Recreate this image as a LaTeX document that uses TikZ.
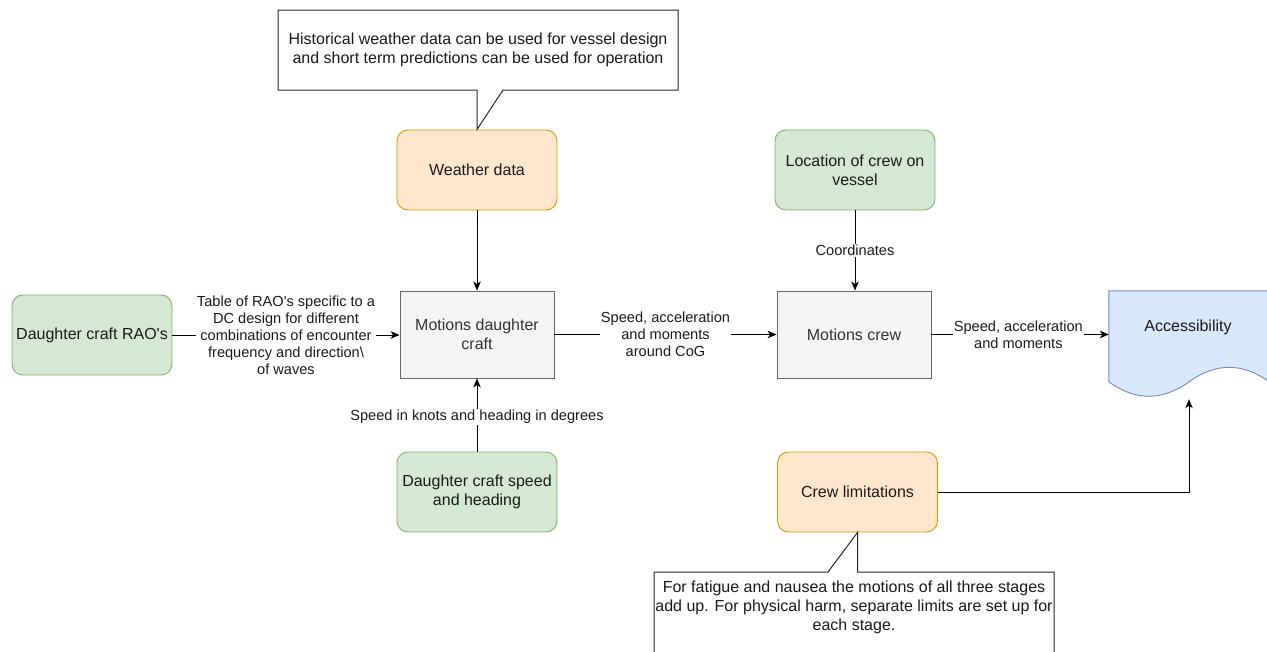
\documentclass[tikz,border=0pt]{standalone}
\usepackage{fontspec}
\setmainfont{Liberation Sans}
\usetikzlibrary{arrows.meta,calc}
\definecolor{gfill}{HTML}{D5E8D4}\definecolor{gline}{HTML}{82B366}
\definecolor{ofill}{HTML}{FFE6CC}\definecolor{oline}{HTML}{D79B00}
\definecolor{bfill}{HTML}{DAE8FC}\definecolor{bline}{HTML}{6C8EBF}
\definecolor{kfill}{HTML}{F5F5F5}\definecolor{kline}{HTML}{666666}
\definecolor{ktext}{HTML}{333333}
\definecolor{txt}{HTML}{1A1A1A}
\tikzset{
  boxfont/.style={font=\fontsize{16}{19}\selectfont, text=txt},
  lblfont/.style={font=\fontsize{14.6}{16.9}\selectfont, text=txt},
  greenbox/.style={boxfont, draw=gline, fill=gfill, rounded corners=11pt, minimum width=160pt, minimum height=80pt, inner sep=0pt, align=center, line width=0.9pt},
  orangebox/.style={boxfont, draw=oline, fill=ofill, rounded corners=11pt, minimum width=160pt, minimum height=80pt, inner sep=0pt, align=center, line width=0.9pt},
  greybox/.style={boxfont, text=ktext, draw=kline, fill=kfill, minimum width=154pt, minimum height=87pt, inner sep=0pt, align=center, line width=0.9pt},
  conn/.style={draw=black, line width=1pt, -{Stealth[length=9pt,width=7.5pt,inset=2.5pt]}},
  elabel/.style={lblfont, fill=white, inner sep=1pt, align=center},
}
\begin{document}
\begin{tikzpicture}[x=1pt,y=-1pt]
\useasboundingbox (0,0) rectangle (1267,651);
\fill[white] (0,0) rectangle (1267,651);
\begin{scope}
\clip (0,0) rectangle (1267,651);

% nodes
\node[orangebox] (wd) at (477,170) {Weather data};
\node[greybox] (mdc) at (477,334.5) {Motions daughter\\craft};
\node[greenbox] (rao) at (92,335) {Daughter craft RAO\textquotesingle s};
\node[greenbox] (dcs) at (477,492) {Daughter craft speed\\and heading};
\node[greenbox] (loc) at (855,170) {Location of crew on\\vessel};
\node[greybox] (mc) at (854,334.5) {Motions crew};
\node[orangebox] (cl) at (857.5,492) {Crew limitations};

% Accessibility document shape
\node[minimum width=160pt, minimum height=107pt, inner sep=0pt] (acc) at (1189,344.5) {};
\path[draw=bline, fill=bfill, line width=0.9pt]
  (acc.north west) -- (acc.north east) -- ($(acc.north east)+(0,91)$)
  .. controls ($(acc.north east)+(-26.7,71.7)$) and ($(acc.north)+(26.7,71.7)$) .. ($(acc.north)+(0,91)$)
  .. controls ($(acc.north)+(-26.7,110.3)$) and ($(acc.north west)+(26.7,110.3)$) .. ($(acc.north west)+(0,91)$)
  -- cycle;
\node[boxfont, anchor=center] (acctext) at (1188,327) {Accessibility};

% top callout
\coordinate (tc1) at (278,10);
\coordinate (tc2) at (678,90);
\path[draw=black!85, fill=white, line width=1pt]
  (tc1) -- (tc1 -| tc2) -- (tc2) -- (503,90) -- (wd.north) -- (wd.north |- tc2) -- (tc1 |- tc2) -- cycle;
\node[boxfont, align=center] (topnote) at (478,50) {Historical weather data can be used for vessel design\\and short term predictions can be used for operation};

% bottom callout
\coordinate (bc1) at (654,572);
\coordinate (bc2) at (1054,665);
\path[draw=black!85, fill=white, line width=1pt]
  (bc1) -- (828,572) -- (cl.south) -- (cl.south |- bc1) -- (bc1 -| bc2) -- (bc2) -- (bc1 |- bc2) -- cycle;
\node[boxfont, align=center] (botnote) at (854,607) {For fatigue and nausea the motions of all three stages\\add up. For physical harm, separate limits are set up for\\each stage.};

% connectors
\draw[conn] (wd.south) -- (mdc.north);
\draw[conn] (rao.east) -- node[elabel] (l1) {Table of RAO\textquotesingle s specific to a\\DC design for different\\combinations of encounter\\frequency and direction\textbackslash\\of waves} (mdc.west |- rao.east);
\draw[conn] (dcs.north) -- node[elabel, pos=0.47] (l2) {Speed in knots and heading in degrees} (mdc.south);
\draw[conn] (mdc.east) -- node[elabel] (l3) {Speed, acceleration\\and moments\\around CoG} (mc.west);
\draw[conn] (loc.south) -- node[elabel, pos=0.5] (l4) {Coordinates} (loc.south |- mc.north);
\draw[conn] (mc.east) -- node[elabel, pos=0.49] (l5) {Speed, acceleration\\and moments} (acc.west |- mc.east);
\draw[conn] (cl.east) -| ($(acc.south)+(0,1)$);
\end{scope}
\end{tikzpicture}
\end{document}
